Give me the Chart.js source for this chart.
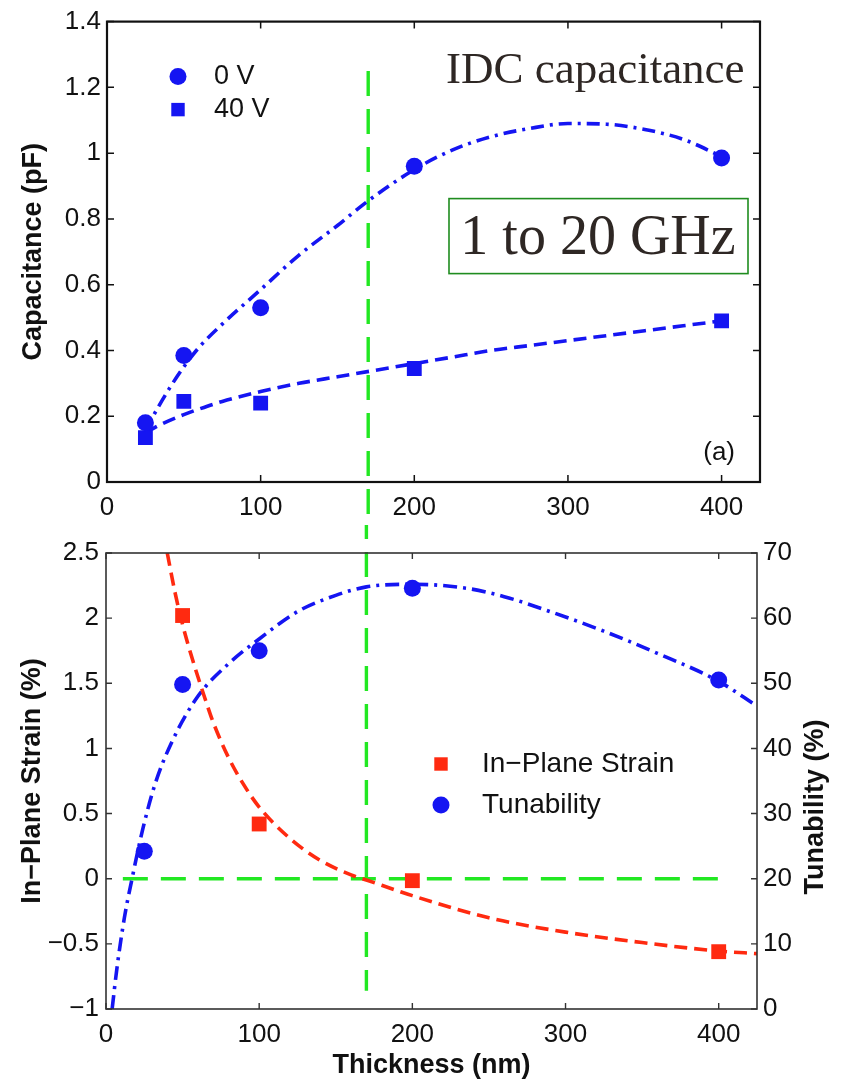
<!DOCTYPE html>
<html>
<head>
<meta charset="utf-8">
<title>IDC capacitance, strain and tunability vs thickness</title>
<script src="https://cdn.jsdelivr.net/npm/chart.js@4.4.1/dist/chart.umd.min.js"></script>
<style>
    body { margin: 0; background: #fff; width: 843px; height: 1085px; overflow: hidden; }
    .panel { position: absolute; left: 0; width: 843px; }
    #topPanel { top: 0; height: 525px; }
    #bottomPanel { top: 525px; height: 560px; }
</style>
</head>
<body>
<div id="topPanel" class="panel"><canvas id="capChart" width="843" height="525"></canvas></div>
<div id="bottomPanel" class="panel"><canvas id="strainChart" width="843" height="560"></canvas></div>

<script>
// ---- panel (a): IDC capacitance ----
const thickness = [25, 50, 100, 200, 400];
const cap0V = [0.18, 0.385, 0.53, 0.96, 0.985];
const cap40V = [0.135, 0.245, 0.24, 0.345, 0.49];

// fitted curves
const fit0VX = [25, 30, 40, 50, 60, 75, 100, 125, 150, 170, 200, 225, 250, 275, 300, 325, 350, 375, 400];
const fit0VY = [0.155, 0.2, 0.28, 0.35, 0.41, 0.48, 0.585, 0.69, 0.78, 0.855, 0.95, 1.01, 1.05, 1.075, 1.09, 1.088, 1.072, 1.042, 0.99];
const fit40VX = [25, 35, 50, 60, 75, 100, 125, 150, 175, 200, 225, 250, 275, 300, 325, 350, 375, 400];
const fit40VY = [0.15, 0.175, 0.205, 0.222, 0.245, 0.275, 0.3, 0.32, 0.34, 0.36, 0.38, 0.4, 0.415, 0.43, 0.445, 0.46, 0.475, 0.49];

// ---- panel (b): in-plane strain and tunability ----
const strainThickness = [50, 100, 200, 400];
const strain = [2.02, 0.42, -0.015, -0.56];
const tunThickness = [25, 50, 100, 200, 400];
const tunability = [24.2, 49.8, 55, 64.6, 50.5];

const fitStrainX = [40, 45, 50, 55, 60, 65, 70, 80, 90, 100, 120, 140, 160, 170, 200, 250, 300, 350, 400, 425];
const fitStrainY = [2.5, 2.2, 1.95, 1.74, 1.55, 1.37, 1.2, 0.93, 0.72, 0.55, 0.31, 0.14, 0.03, -0.01, -0.13, -0.3, -0.41, -0.49, -0.555, -0.575];
const fitTunX = [4, 7, 12, 17, 24, 32, 43, 60, 80, 100, 125, 150, 170, 200, 235, 260, 290, 325, 360, 400, 425];
const fitTunY = [0, 6, 14, 20, 27.6, 34.5, 41, 48, 53, 56.8, 61, 63.5, 64.8, 65.2, 64.6, 63.3, 61, 58, 54.6, 50.3, 46.5];

// green guide lines
const guideThickness = 170;
const guideCapRange = [1.25, -0.2];
const guideStrainRange = [2.8, -0.86];
const zeroStrainX = [11, 402];

// axis ticks
const thicknessTicks = [0, 100, 200, 300, 400];
const capTicks = [0, 0.2, 0.4, 0.6, 0.8, 1, 1.2, 1.4];
const strainTicks = [-1, -0.5, 0, 0.5, 1, 1.5, 2, 2.5];
const tunTicks = [0, 10, 20, 30, 40, 50, 60, 70];

const BLUE = '#1515f2';
const RED = '#ff2a10';
const GREEN = '#22e822';
const SANS = "'Liberation Sans', Arial, Helvetica, sans-serif";
const SERIF = "'Liberation Serif', 'Times New Roman', serif";

Chart.defaults.font.family = SANS;
Chart.defaults.color = '#111';

function pairs(xs, ys) {
    return xs.map((x, i) => ({ x: x, y: ys[i] }));
}

function fixedTicks(values) {
    return scale => { scale.ticks = values.map(v => ({ value: v })); };
}

function minusLabel(v) {
    return v < 0 ? '\u2212' + Math.abs(v) : String(v);
}

// MATLAB-like box with inward ticks
const boxAxes = {
    id: 'boxAxes',
    afterDatasetsDraw(chart, args, opts) {
        const { ctx, chartArea: a, scales } = chart;
        const len = opts.tickLength;
        const leftY = scales.y;
        const rightY = scales.y2 || scales.y;
        ctx.save();
        ctx.strokeStyle = opts.color;
        ctx.lineWidth = opts.tickWidth;
        ctx.beginPath();
        scales.x.ticks.forEach(t => {
            const px = scales.x.getPixelForValue(t.value);
            ctx.moveTo(px, a.bottom); ctx.lineTo(px, a.bottom - len);
            ctx.moveTo(px, a.top); ctx.lineTo(px, a.top + len);
        });
        leftY.ticks.forEach(t => {
            const py = leftY.getPixelForValue(t.value);
            ctx.moveTo(a.left, py); ctx.lineTo(a.left + len, py);
        });
        rightY.ticks.forEach(t => {
            const py = rightY.getPixelForValue(t.value);
            ctx.moveTo(a.right, py); ctx.lineTo(a.right - len, py);
        });
        ctx.stroke();
        ctx.lineWidth = opts.lineWidth;
        ctx.strokeRect(a.left, a.top, a.right - a.left, a.bottom - a.top);
        ctx.restore();
    }
};

// legend drawn inside the plot, from datasets flagged inLegend
const inlineLegend = {
    id: 'inlineLegend',
    afterDatasetsDraw(chart, args, opts) {
        const { ctx, chartArea: a } = chart;
        const items = chart.data.datasets.filter(d => d.inLegend);
        ctx.save();
        ctx.font = opts.font;
        ctx.textBaseline = 'middle';
        items.forEach((ds, i) => {
            const x = a.left + opts.x;
            const y = a.top + opts.y + i * opts.rowGap;
            ctx.fillStyle = ds.backgroundColor;
            Chart.helpers.drawPoint(ctx, {
                pointStyle: ds.pointStyle, radius: ds.legendRadius, rotation: 0, borderWidth: 0
            }, x, y);
            ctx.fillStyle = '#111';
            ctx.fillText(ds.label, x + opts.textGap, y);
        });
        ctx.restore();
    }
};

function markerSet(label, xs, ys, style, color, axis) {
    return {
        label: label,
        data: pairs(xs, ys),
        yAxisID: axis || 'y',
        showLine: false,
        pointStyle: style,
        pointRadius: style === 'rect' ? 10.5 : 8.5,
        legendRadius: style === 'rect' ? 9.5 : 8.5,
        backgroundColor: color,
        borderColor: color,
        pointBorderWidth: 0,
        inLegend: true
    };
}

function fitLine(xs, ys, color, dash, axis) {
    return {
        data: pairs(xs, ys),
        yAxisID: axis || 'y',
        borderColor: color,
        borderWidth: 3.6,
        borderDash: dash,
        pointRadius: 0,
        cubicInterpolationMode: 'monotone',
        fill: false
    };
}

function guideLine(points, axis) {
    return {
        data: points,
        yAxisID: axis || 'y',
        borderColor: GREEN,
        borderWidth: 3.4,
        borderDash: [25, 13],
        pointRadius: 0,
        fill: false,
        clip: false
    };
}

const tickFont = { size: 26 };
const titleFont = { size: 27, weight: 'bold' };

// ---- top chart ----
const capChart = new Chart(document.getElementById('capChart'), {
    type: 'line',
    data: {
        datasets: [
            markerSet('0 V', thickness, cap0V, 'circle', BLUE),
            markerSet('40 V', thickness, cap40V, 'rect', BLUE),
            fitLine(fit0VX, fit0VY, BLUE, [13, 6, 3, 6]),
            fitLine(fit40VX, fit40VY, BLUE, [13, 7]),
            guideLine(guideCapRange.map(v => ({ x: guideThickness, y: v })))
        ]
    },
    options: {
        responsive: false,
        animation: false,
        events: [],
        layout: { padding: { left: 0, top: 18, right: 83, bottom: 0 } },
        scales: {
            x: {
                type: 'linear', min: 0, max: 425,
                afterBuildTicks: fixedTicks(thicknessTicks),
                afterFit: s => { s.height = 43; },
                grid: { display: false, drawTicks: false },
                border: { display: false },
                ticks: { font: tickFont, padding: 10, maxRotation: 0, autoSkip: false }
            },
            y: {
                min: 0, max: 1.4,
                afterBuildTicks: fixedTicks(capTicks),
                afterFit: s => { s.width = 107; },
                grid: { display: false, drawTicks: false },
                border: { display: false },
                ticks: { font: tickFont, padding: 6, autoSkip: false, callback: v => String(v) },
                title: { display: true, text: 'Capacitance (pF)', font: titleFont, padding: { top: 17, bottom: 0 } }
            }
        },
        plugins: {
            legend: { display: false },
            tooltip: { enabled: false },
            boxAxes: { tickLength: 7, tickWidth: 1.5, lineWidth: 2.2, color: '#111' },
            inlineLegend: { x: 71, y: 55, rowGap: 33, textGap: 36, font: '27px ' + SANS }
        }
    },
    plugins: [boxAxes, inlineLegend, {
        id: 'capNotes',
        afterDraw(chart) {
            const { ctx, chartArea: a } = chart;
            ctx.save();
            ctx.fillStyle = '#2e2724';
            ctx.textAlign = 'left';
            ctx.textBaseline = 'alphabetic';
            ctx.font = '45px ' + SERIF;
            ctx.fillText('IDC capacitance', a.left + 339, a.top + 61);
            // frequency box
            ctx.strokeStyle = '#1f8c1f';
            ctx.lineWidth = 1.6;
            ctx.strokeRect(a.left + 342, a.top + 177, 299, 75);
            ctx.textAlign = 'center';
            ctx.font = '56px ' + SERIF;
            ctx.fillText('1 to 20 GHz', a.left + 491, a.top + 232);
            ctx.fillStyle = '#111';
            ctx.textAlign = 'right';
            ctx.textBaseline = 'middle';
            ctx.font = '26px ' + SANS;
            ctx.fillText('(a)', a.right - 25, a.top + 431);
            ctx.restore();
        }
    }]
});

// ---- bottom chart ----
const strainChart = new Chart(document.getElementById('strainChart'), {
    type: 'line',
    data: {
        datasets: [
            markerSet('In\u2212Plane Strain', strainThickness, strain, 'rect', RED),
            markerSet('Tunability', tunThickness, tunability, 'circle', BLUE, 'y2'),
            fitLine(fitStrainX, fitStrainY, RED, [13, 7]),
            fitLine(fitTunX, fitTunY, BLUE, [14, 6, 3, 6], 'y2'),
            guideLine(guideStrainRange.map(v => ({ x: guideThickness, y: v }))),
            guideLine(zeroStrainX.map(x => ({ x: x, y: 0 })))
        ]
    },
    options: {
        responsive: false,
        animation: false,
        events: [],
        layout: { padding: { left: 0, top: 28, right: 0, bottom: 0 } },
        scales: {
            x: {
                type: 'linear', min: 0, max: 425,
                afterBuildTicks: fixedTicks(thicknessTicks),
                afterFit: s => { s.height = 76; },
                grid: { display: false, drawTicks: false },
                border: { display: false },
                ticks: { font: tickFont, padding: 10, maxRotation: 0, autoSkip: false },
                title: { display: true, text: 'Thickness (nm)', font: titleFont, padding: { top: 0, bottom: 3 } }
            },
            y: {
                min: -1, max: 2.5,
                afterBuildTicks: fixedTicks(strainTicks),
                afterFit: s => { s.width = 106; },
                grid: { display: false, drawTicks: false },
                border: { display: false },
                ticks: { font: tickFont, padding: 7, autoSkip: false, callback: minusLabel },
                title: { display: true, text: 'In\u2212Plane Strain (%)', font: titleFont, padding: { top: 16, bottom: 0 } }
            },
            y2: {
                position: 'right',
                min: 0, max: 70,
                afterBuildTicks: fixedTicks(tunTicks),
                afterFit: s => { s.width = 86; },
                grid: { display: false, drawTicks: false },
                border: { display: false },
                ticks: { font: tickFont, padding: 6, autoSkip: false }
            }
        },
        plugins: {
            legend: { display: false },
            tooltip: { enabled: false },
            boxAxes: { tickLength: 6, tickWidth: 1.4, lineWidth: 1.6, color: '#333' },
            inlineLegend: { x: 335, y: 211, rowGap: 41, textGap: 41, font: '28px ' + SANS }
        }
    },
    plugins: [boxAxes, inlineLegend, {
        // right axis title reads bottom-to-top like the left one
        id: 'rightTitle',
        afterDraw(chart) {
            const { ctx, chartArea: a } = chart;
            const s = chart.scales.y2;
            ctx.save();
            ctx.translate(s.right - 27, (a.top + a.bottom) / 2 + 26);
            ctx.rotate(-Math.PI / 2);
            ctx.textAlign = 'center';
            ctx.textBaseline = 'middle';
            ctx.fillStyle = '#111';
            ctx.font = 'bold 27px ' + SANS;
            ctx.fillText('Tunability (%)', 0, 0);
            ctx.restore();
        }
    }]
});
</script>
</body>
</html>
